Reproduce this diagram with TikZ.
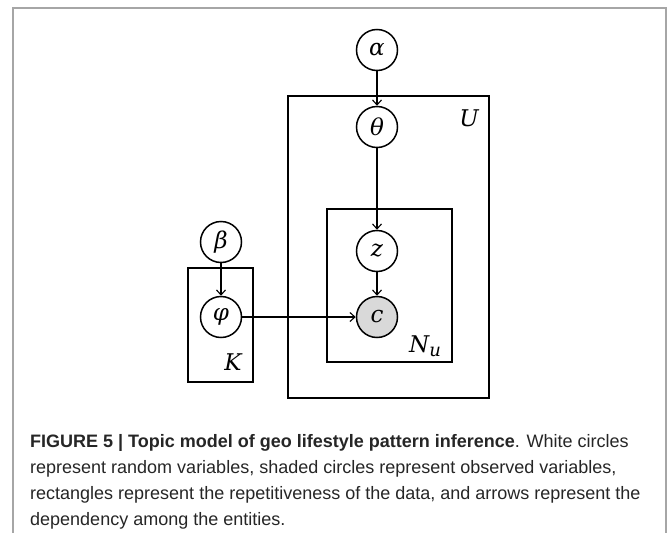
\documentclass[tikz,border=0pt]{standalone}
\usepackage{fontspec}
\newfontfamily\capfont{Liberation Sans}
\newfontfamily\mvfont{DejaVu Serif}
\usetikzlibrary{arrows.meta}
\begin{document}
\begin{tikzpicture}[x=1pt,y=-1pt,
  var/.style={circle,draw,line width=1.5pt,minimum size=41pt,inner sep=0pt,font=\mvfont\itshape\fontsize{23}{23}\selectfont},
  obs/.style={var,fill=black!15},
  plate/.style={draw,line width=1.8pt},
  platelabel/.style={font=\mvfont\itshape\fontsize{23}{23}\selectfont,inner sep=0pt},
  edge/.style={line width=1.1pt,-{Straight Barb[length=5pt,width=9pt,line width=1.1pt]}},
  capline/.style={anchor=base west,inner sep=0pt,font=\capfont\fontsize{18}{26}\selectfont,text=black!85}]
\useasboundingbox (0,0) rectangle (667,533);
\fill[white] (0,0) rectangle (667,533);
% outer frame
\draw[line width=2pt,black!35] (13,545) -- (13,8) -- (666,8) -- (666,545);
% plates
\draw[plate] (288,96) rectangle (489,398);
\draw[plate] (327,209) rectangle (452,362);
\draw[plate] (188,268) rectangle (253,382);
\node[platelabel] (lU) at (469,118) {U};
\node[platelabel] (lN) at (425,346) {N\raisebox{-4pt}{\fontsize{18}{18}\selectfont u}};
\node[platelabel] (lK) at (233,362) {K};
% nodes
\node[var] (alpha) at (377,50) {α};
\node[var] (theta) at (377,127) {θ};
\node[var] (z) at (377,251) {z};
\node[obs] (c) at (377,317) {c};
\node[var] (beta) at (221,242) {β};
\node[var] (phi) at (221,317) {φ};
% edges
\draw[edge] (alpha) -- (theta);
\draw[edge] (theta) -- (z);
\draw[edge] (z) -- (c);
\draw[edge] (beta) -- (phi);
\draw[edge] (phi) -- (c);
% caption
\node[capline] (cap1) at (30,447) {\textbf{FIGURE 5 | Topic model of geo lifestyle pattern inference}. White circles};
\node[capline] (cap2) at (30,473) {represent random variables, shaded circles represent observed variables,};
\node[capline] (cap3) at (30,499) {rectangles represent the repetitiveness of the data, and arrows represent the};
\node[capline] (cap4) at (30,525) {dependency among the entities.};
\end{tikzpicture}
\end{document}
